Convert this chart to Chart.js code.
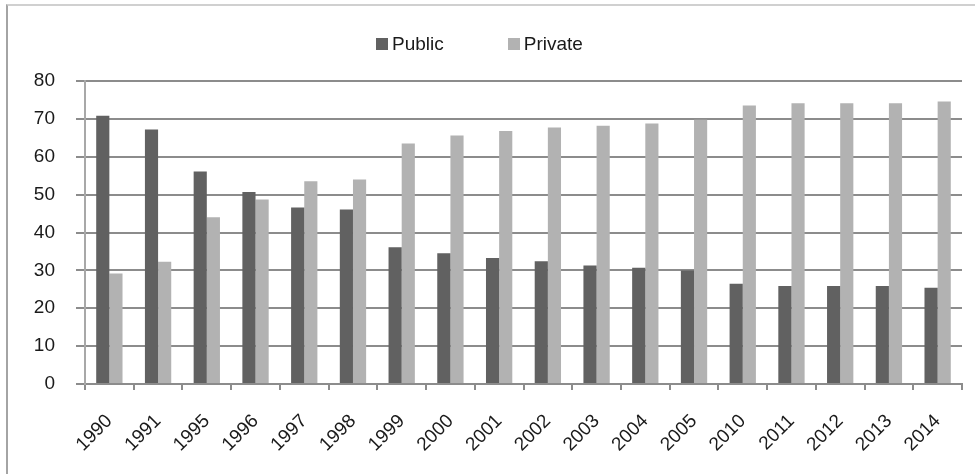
<!DOCTYPE html>
<html>
<head>
<meta charset="utf-8">
<script src="https://cdn.jsdelivr.net/npm/chart.js@4"></script>
<style>
  html, body { margin: 0; padding: 0; background: #fff; overflow: hidden; }
  #frame {
    position: absolute; left: 6px; top: 4px; width: 990px; height: 500px;
    border-left: 2px solid #a4a4a4; border-top: 2px solid #d0d0d0;
  }
  #wrap { position: absolute; left: 0; top: 0; width: 975px; height: 474px; }
  #legend {
    position: absolute; top: 33px; left: 376px; height: 22px;
    font: 19px "Liberation Sans", Arial, sans-serif; color: #1a1a1a;
    display: flex; align-items: center; white-space: nowrap;
  }
  .item { display: flex; align-items: center; }
  .item + .item { margin-left: 64px; }
  .swatch { width: 12px; height: 12px; margin-right: 4px; }
</style>
</head>
<body>
<div id="frame"></div>
<div id="wrap"><canvas id="chart"></canvas></div>
<div id="legend"></div>
<script>
// Data
const years = ['1990', '1991', '1995', '1996', '1997', '1998', '1999', '2000', '2001',
               '2002', '2003', '2004', '2005', '2010', '2011', '2012', '2013', '2014'];
const publicShare = [70.8, 67.2, 56.1, 50.7, 46.6, 46.1, 36.1, 34.5, 33.3,
                     32.4, 31.3, 30.7, 30.0, 26.5, 25.9, 25.9, 25.9, 25.4];
const privateShare = [29.2, 32.3, 44.0, 48.7, 53.5, 54.0, 63.5, 65.6, 66.8,
                      67.7, 68.2, 68.8, 69.8, 73.5, 74.1, 74.1, 74.1, 74.6];
const yTicks = [0, 10, 20, 30, 40, 50, 60, 70, 80];

const font = { family: '"Liberation Sans", Arial, sans-serif', size: 19 };

const ctx = document.getElementById('chart').getContext('2d');
const chart = new Chart(ctx, {
    type: 'bar',
    data: {
        labels: years,
        datasets: [
            {
                label: 'Public',
                backgroundColor: '#616161',
                data: publicShare
            },
            {
                label: 'Private',
                backgroundColor: '#b2b2b2',
                data: privateShare
            }
        ]
    },
    options: {
        responsive: true,
        maintainAspectRatio: false,
        animation: false,
        devicePixelRatio: 1,
        datasets: {
            bar: {
                categoryPercentage: 0.54,
                barPercentage: 1.0
            }
        },
        layout: {
            padding: { left: 0, right: 13, top: 81, bottom: 0 }
        },
        scales: {
            x: {
                afterFit: (scale) => {
                    scale.height = 90; // plot bottom at y=384
                },
                grid: {
                    drawOnChartArea: false,
                    drawTicks: true,
                    tickLength: 6,
                    color: '#8c8c8c',
                    lineWidth: 2,
                    offset: true
                },
                border: { color: '#8c8c8c', width: 2 },
                ticks: {
                    color: '#1a1a1a',
                    font: font,
                    maxRotation: 45,
                    minRotation: 45,
                    autoSkip: false,
                    padding: 20
                }
            },
            y: {
                min: 0,
                max: 80,
                afterBuildTicks: (scale) => {
                    scale.ticks = yTicks.map(v => ({ value: v }));
                },
                afterFit: (scale) => {
                    scale.width = 85;
                },
                grid: {
                    color: '#8c8c8c',
                    lineWidth: 2,
                    tickLength: 9
                },
                border: { color: '#a8a8a8', width: 2 },
                ticks: {
                    color: '#1a1a1a',
                    font: font,
                    padding: 21
                }
            }
        },
        plugins: {
            legend: { display: false },
            tooltip: { enabled: false }
        }
    }
});

// Legend (HTML, built from the datasets)
const legend = document.getElementById('legend');
chart.data.datasets.forEach(ds => {
    const item = document.createElement('div');
    item.className = 'item';
    const sw = document.createElement('span');
    sw.className = 'swatch';
    sw.style.background = ds.backgroundColor;
    const txt = document.createElement('span');
    txt.textContent = ds.label;
    item.appendChild(sw);
    item.appendChild(txt);
    legend.appendChild(item);
});
</script>
</body>
</html>
